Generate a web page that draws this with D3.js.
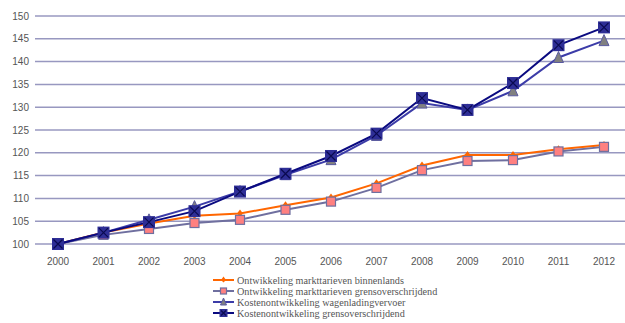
<!DOCTYPE html>
<html><head><meta charset="utf-8">
<script src="https://cdn.jsdelivr.net/npm/d3@7"></script>
<style>body{margin:0;background:#fff}svg{display:block}</style>
</head><body>
<svg id="c" width="625" height="323"></svg>
<script>
const years = ["2000","2001","2002","2003","2004","2005","2006","2007","2008","2009","2010","2011","2012"];
const yTicks = [100,105,110,115,120,125,130,135,140,145,150];
const seriesNames = [
  "Ontwikkeling markttarieven binnenlands",
  "Ontwikkeling markttarieven grensoverschrijdend",
  "Kostenontwikkeling wagenladingvervoer",
  "Kostenontwikkeling grensoverschrijdend"
];
const binnenlands = [100,102.5,104.5,106.2,106.7,108.5,110.2,113.3,117.2,119.5,119.5,120.8,121.7];
const marktGrens = [100,102.0,103.3,104.6,105.3,107.5,109.3,112.3,116.2,118.2,118.4,120.3,121.3];
const wagenlading = [100,102.5,105.3,108.2,111.5,115.2,118.5,123.8,130.9,129.4,133.6,140.9,144.6];
const kostenGrens = [100,102.5,104.8,107.2,111.5,115.4,119.3,124.2,132.0,129.4,135.3,143.6,147.5];

const svg = d3.select("#c");
const x = d3.scalePoint().domain(years).range([58,604]);
const y = d3.scaleLinear().domain([100,150]).range([244,16]);

// grid
svg.append("g").selectAll("line").data(yTicks).join("line")
  .attr("x1",35).attr("x2",625).attr("y1",d=>y(d)).attr("y2",d=>y(d))
  .attr("stroke","#9898c0").attr("stroke-width",1.5);

// y labels
svg.append("g").selectAll("text").data(yTicks).join("text")
  .attr("x",29).attr("y",d=>y(d)+3.5).attr("text-anchor","end")
  .attr("font-family","Liberation Sans, Arial, sans-serif").attr("font-size",10)
  .attr("fill","#555").text(d=>d);
// x labels
svg.append("g").selectAll("text").data(years).join("text")
  .attr("x",d=>x(d)).attr("y",265).attr("text-anchor","middle")
  .attr("font-family","Liberation Sans, Arial, sans-serif").attr("font-size",10)
  .attr("fill","#555").text(d=>d);

const styles = [
  {data:binnenlands, line:"#ff6600", marker:"diamond", fill:"#ff6600", stroke:"#ff6600", size:6},
  {data:marktGrens, line:"#6f6f9f", marker:"square", fill:"#ff8080", stroke:"#6f6f9f", size:9},
  {data:wagenlading, line:"#3c3ca8", marker:"triangle", fill:"#808080", stroke:"#5a5aa0", size:10},
  {data:kostenGrens, line:"#0a0a80", marker:"squarex", fill:"#2e2e96", stroke:"#1a1a70", size:12}
];

const line = d3.line().x((d,i)=>x(years[i])).y(d=>y(d));

function drawMarker(g, type, cx, cy, s, fill, stroke){
  if(type==="diamond"){
    g.append("path").attr("d",`M${cx},${cy-s/2-1}L${cx+s/2},${cy}L${cx},${cy+s/2}L${cx-s/2},${cy}Z`)
      .attr("fill",fill);
  } else if(type==="square"){
    g.append("rect").attr("x",cx-s/2).attr("y",cy-s/2).attr("width",s).attr("height",s)
      .attr("fill",fill).attr("stroke",stroke).attr("stroke-width",1.2);
  } else if(type==="triangle"){
    g.append("path").attr("d",`M${cx},${cy-s/2-1}L${cx+s/2},${cy+s/2}L${cx-s/2},${cy+s/2}Z`)
      .attr("fill",fill).attr("stroke",stroke).attr("stroke-width",1);
  } else {
    g.append("rect").attr("x",cx-s/2).attr("y",cy-s/2).attr("width",s).attr("height",s)
      .attr("fill",fill);
    const h=s/2-1.5;
    g.append("path").attr("d",`M${cx-h},${cy-h}L${cx+h},${cy+h}M${cx+h},${cy-h}L${cx-h},${cy+h}`)
      .attr("stroke","#0a0a50").attr("stroke-width",1.2);
  }
}

styles.forEach(st=>{
  const g = svg.append("g");
  g.append("path").datum(st.data).attr("d",line).attr("fill","none")
    .attr("stroke",st.line).attr("stroke-width",2);
  st.data.forEach((v,i)=>drawMarker(g, st.marker, x(years[i]), y(v), st.size, st.fill, st.stroke));
});

// legend
const lg = svg.append("g");
seriesNames.forEach((n,i)=>{
  const st = styles[i];
  const ly = 280 + i*11;
  lg.append("line").attr("x1",213).attr("x2",234).attr("y1",ly).attr("y2",ly)
    .attr("stroke",st.line).attr("stroke-width",2);
  drawMarker(lg, st.marker, 223.5, ly, st.marker==="squarex"?8:(st.marker==="diamond"?5:6), st.fill, st.stroke);
  lg.append("text").attr("x",237).attr("y",ly+3.5)
    .attr("font-family","Liberation Serif, Times New Roman, serif").attr("font-size",10.2)
    .attr("fill","#555").text(n);
});
</script>
</body></html>
